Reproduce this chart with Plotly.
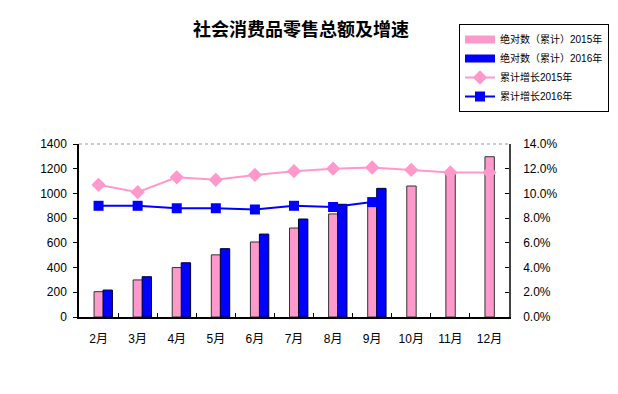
import plotly.graph_objects as go

months = ["2月", "3月", "4月", "5月", "6月", "7月", "8月", "9月", "10月", "11月", "12月"]
abs_2015 = [205, 300, 400, 503, 607, 720, 834, 920, 1060, 1180, 1297]
abs_2016 = [218, 326, 439, 553, 671, 793, 912, 1041]
growth_2015 = [0.107, 0.101, 0.113, 0.111, 0.115, 0.118, 0.120, 0.121, 0.119, 0.117, 0.117]
growth_2016 = [0.090, 0.090, 0.088, 0.088, 0.087, 0.090, 0.089, 0.093]
names = ["绝对数（累计）2015年", "绝对数（累计）2016年", "累计增长2015年", "累计增长2016年"]

PINK = "#FF99CC"
BLUE = "#0000FF"
FONT = "Liberation Sans, Arial, Noto Sans CJK SC"

# The page body has an 8px default margin, so the figure is drawn 8px smaller
# and all positions below are shifted by 8px.
W, H = 610, 386
OFF = 8

fig = go.Figure()
fig.add_trace(go.Bar(x=months, y=abs_2015, name=names[0], showlegend=False,
                     offset=-0.115, width=0.24,
                     marker=dict(color=PINK, line=dict(color="#333333", width=1))))
fig.add_trace(go.Bar(x=months[:len(abs_2016)], y=abs_2016, name=names[1], showlegend=False,
                     offset=0.115, width=0.24,
                     marker=dict(color=BLUE, line=dict(color="#000033", width=1))))
# legend-only entries that look like the wide bar swatches of the original
fig.add_trace(go.Scatter(x=[None], y=[None], name=names[0], mode="lines",
                         line=dict(color=PINK, width=8)))
fig.add_trace(go.Scatter(x=[None], y=[None], name=names[1], mode="lines",
                         line=dict(color=BLUE, width=8)))
fig.add_trace(go.Scatter(x=months, y=growth_2015, name=names[2], yaxis="y2",
                         mode="lines+markers",
                         line=dict(color=PINK, width=2),
                         marker=dict(symbol="diamond", size=11, color=PINK)))
fig.add_trace(go.Scatter(x=months[:len(growth_2016)], y=growth_2016, name=names[3], yaxis="y2",
                         mode="lines+markers",
                         line=dict(color=BLUE, width=2),
                         marker=dict(symbol="square", size=10, color=BLUE)))

left, right, top, bottom = 79 - OFF, 509 - OFF, 144 - OFF, 317 - OFF
pw, ph = right - left, bottom - top

fig.update_layout(
    width=W, height=H,
    margin=dict(l=left, r=W - right, t=top, b=H - bottom, autoexpand=False),
    paper_bgcolor="white", plot_bgcolor="white",
    barmode="overlay",
    font=dict(family=FONT, size=12, color="#000000"),
    title=dict(text="<b>社会消费品零售总额及增速</b>", x=(301 - OFF) / W, xanchor="center",
               y=1 - (30 - OFF) / H, yanchor="middle",
               font=dict(family="Noto Sans CJK SC", size=18, color="#000000")),
    xaxis=dict(range=[-0.5, len(months) - 0.5], showline=True, linecolor="#000000",
               linewidth=1.5, ticks="inside",
               tickson="boundaries", ticklen=4, tickcolor="#000000", ticklabelstandoff=10,
               tickfont=dict(size=12), showgrid=False, zeroline=False),
    yaxis=dict(range=[0, 1400], dtick=200, showline=True, linecolor="#000000", linewidth=1.5,
               ticks="outside", ticklen=4, tickcolor="#000000", showgrid=False, zeroline=False,
               ticklabelstandoff=4, tickfont=dict(size=12)),
    yaxis2=dict(range=[0, 0.14], dtick=0.02, tickformat=".1%", overlaying="y", side="right",
                showline=True, linecolor="#444444", linewidth=1.5, ticks="inside", ticklen=4,
                tickcolor="#000000", showgrid=False, zeroline=False, ticklabelstandoff=10,
                tickfont=dict(size=12)),
    legend=dict(x=(459 - OFF - left) / pw, y=(bottom - (24 - OFF)) / ph,
                xanchor="left", yanchor="top",
                bordercolor="#000000", borderwidth=1, bgcolor="white",
                font=dict(size=10), tracegroupgap=0, itemwidth=30),
    showlegend=True,
)
fig.add_shape(type="line", xref="paper", yref="paper", x0=0, x1=1, y0=1, y1=1,
              line=dict(color="#999999", width=1, dash="dot"))

fig.write_html("out.html")
